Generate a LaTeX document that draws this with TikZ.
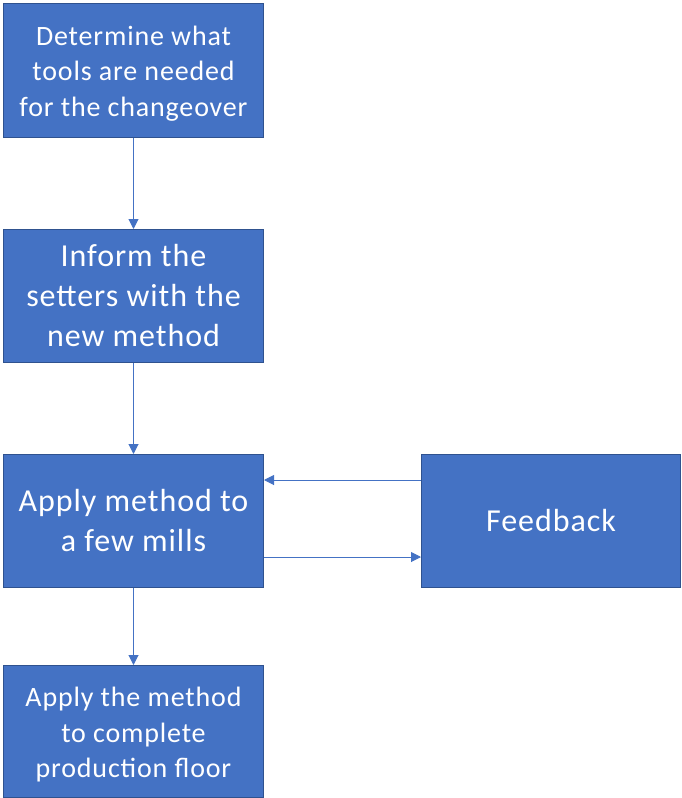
\documentclass[tikz,border=0pt]{standalone}
\usepackage{fontspec}
\setmainfont{Carlito}[LetterSpace=3]
\usetikzlibrary{arrows.meta}
\definecolor{boxfill}{HTML}{4472C4}
\definecolor{boxline}{HTML}{2F528F}
\definecolor{linkcol}{HTML}{4472C4}
\begin{document}
\begin{tikzpicture}[x=1pt,y=-1pt,
  stepbox/.style={draw=boxline, line width=1pt, fill=boxfill, text=white,
    minimum width=260pt, align=center, inner sep=0pt, anchor=north west},
  steptext/.style={text=white, align=center, inner sep=0pt,
    font=\fontsize{28}{35.5}\selectfont},
  bigtext/.style={font=\fontsize{32}{40}\selectfont},
  link/.style={draw=linkcol, line width=1pt, -{Triangle[width=10pt,length=10pt]}}]
\useasboundingbox (0,0) rectangle (681,798);
\node[stepbox, minimum height=134pt,
  label={[steptext, yshift=-3pt]center:Determine what\\tools are needed\\for the changeover}] (s1) at (3,3) {};
\node[stepbox, minimum height=133pt, bigtext] (s2) at (3,229)
  {Inform the\\setters with the\\new method};
\node[stepbox, minimum height=133pt, bigtext] (s3) at (3,454)
  {Apply method to\\a few mills};
\node[stepbox, minimum width=259pt, minimum height=133pt, bigtext] (fb) at (421,454)
  {Feedback};
\node[stepbox, minimum height=132pt,
  label={[steptext, yshift=-3.5pt]center:Apply the method\\to complete\\production floor}] (s4) at (3,665) {};
\draw[link] (s1.south) -- (s2.north);
\draw[link] (s2.south) -- (s3.north);
\draw[link] (s3.south) -- (s4.north);
\draw[link] (fb.west |- 0,480) -- (s3.east |- 0,480);
\draw[link] (s3.east |- 0,557) -- (fb.west |- 0,557);
\end{tikzpicture}
\end{document}
